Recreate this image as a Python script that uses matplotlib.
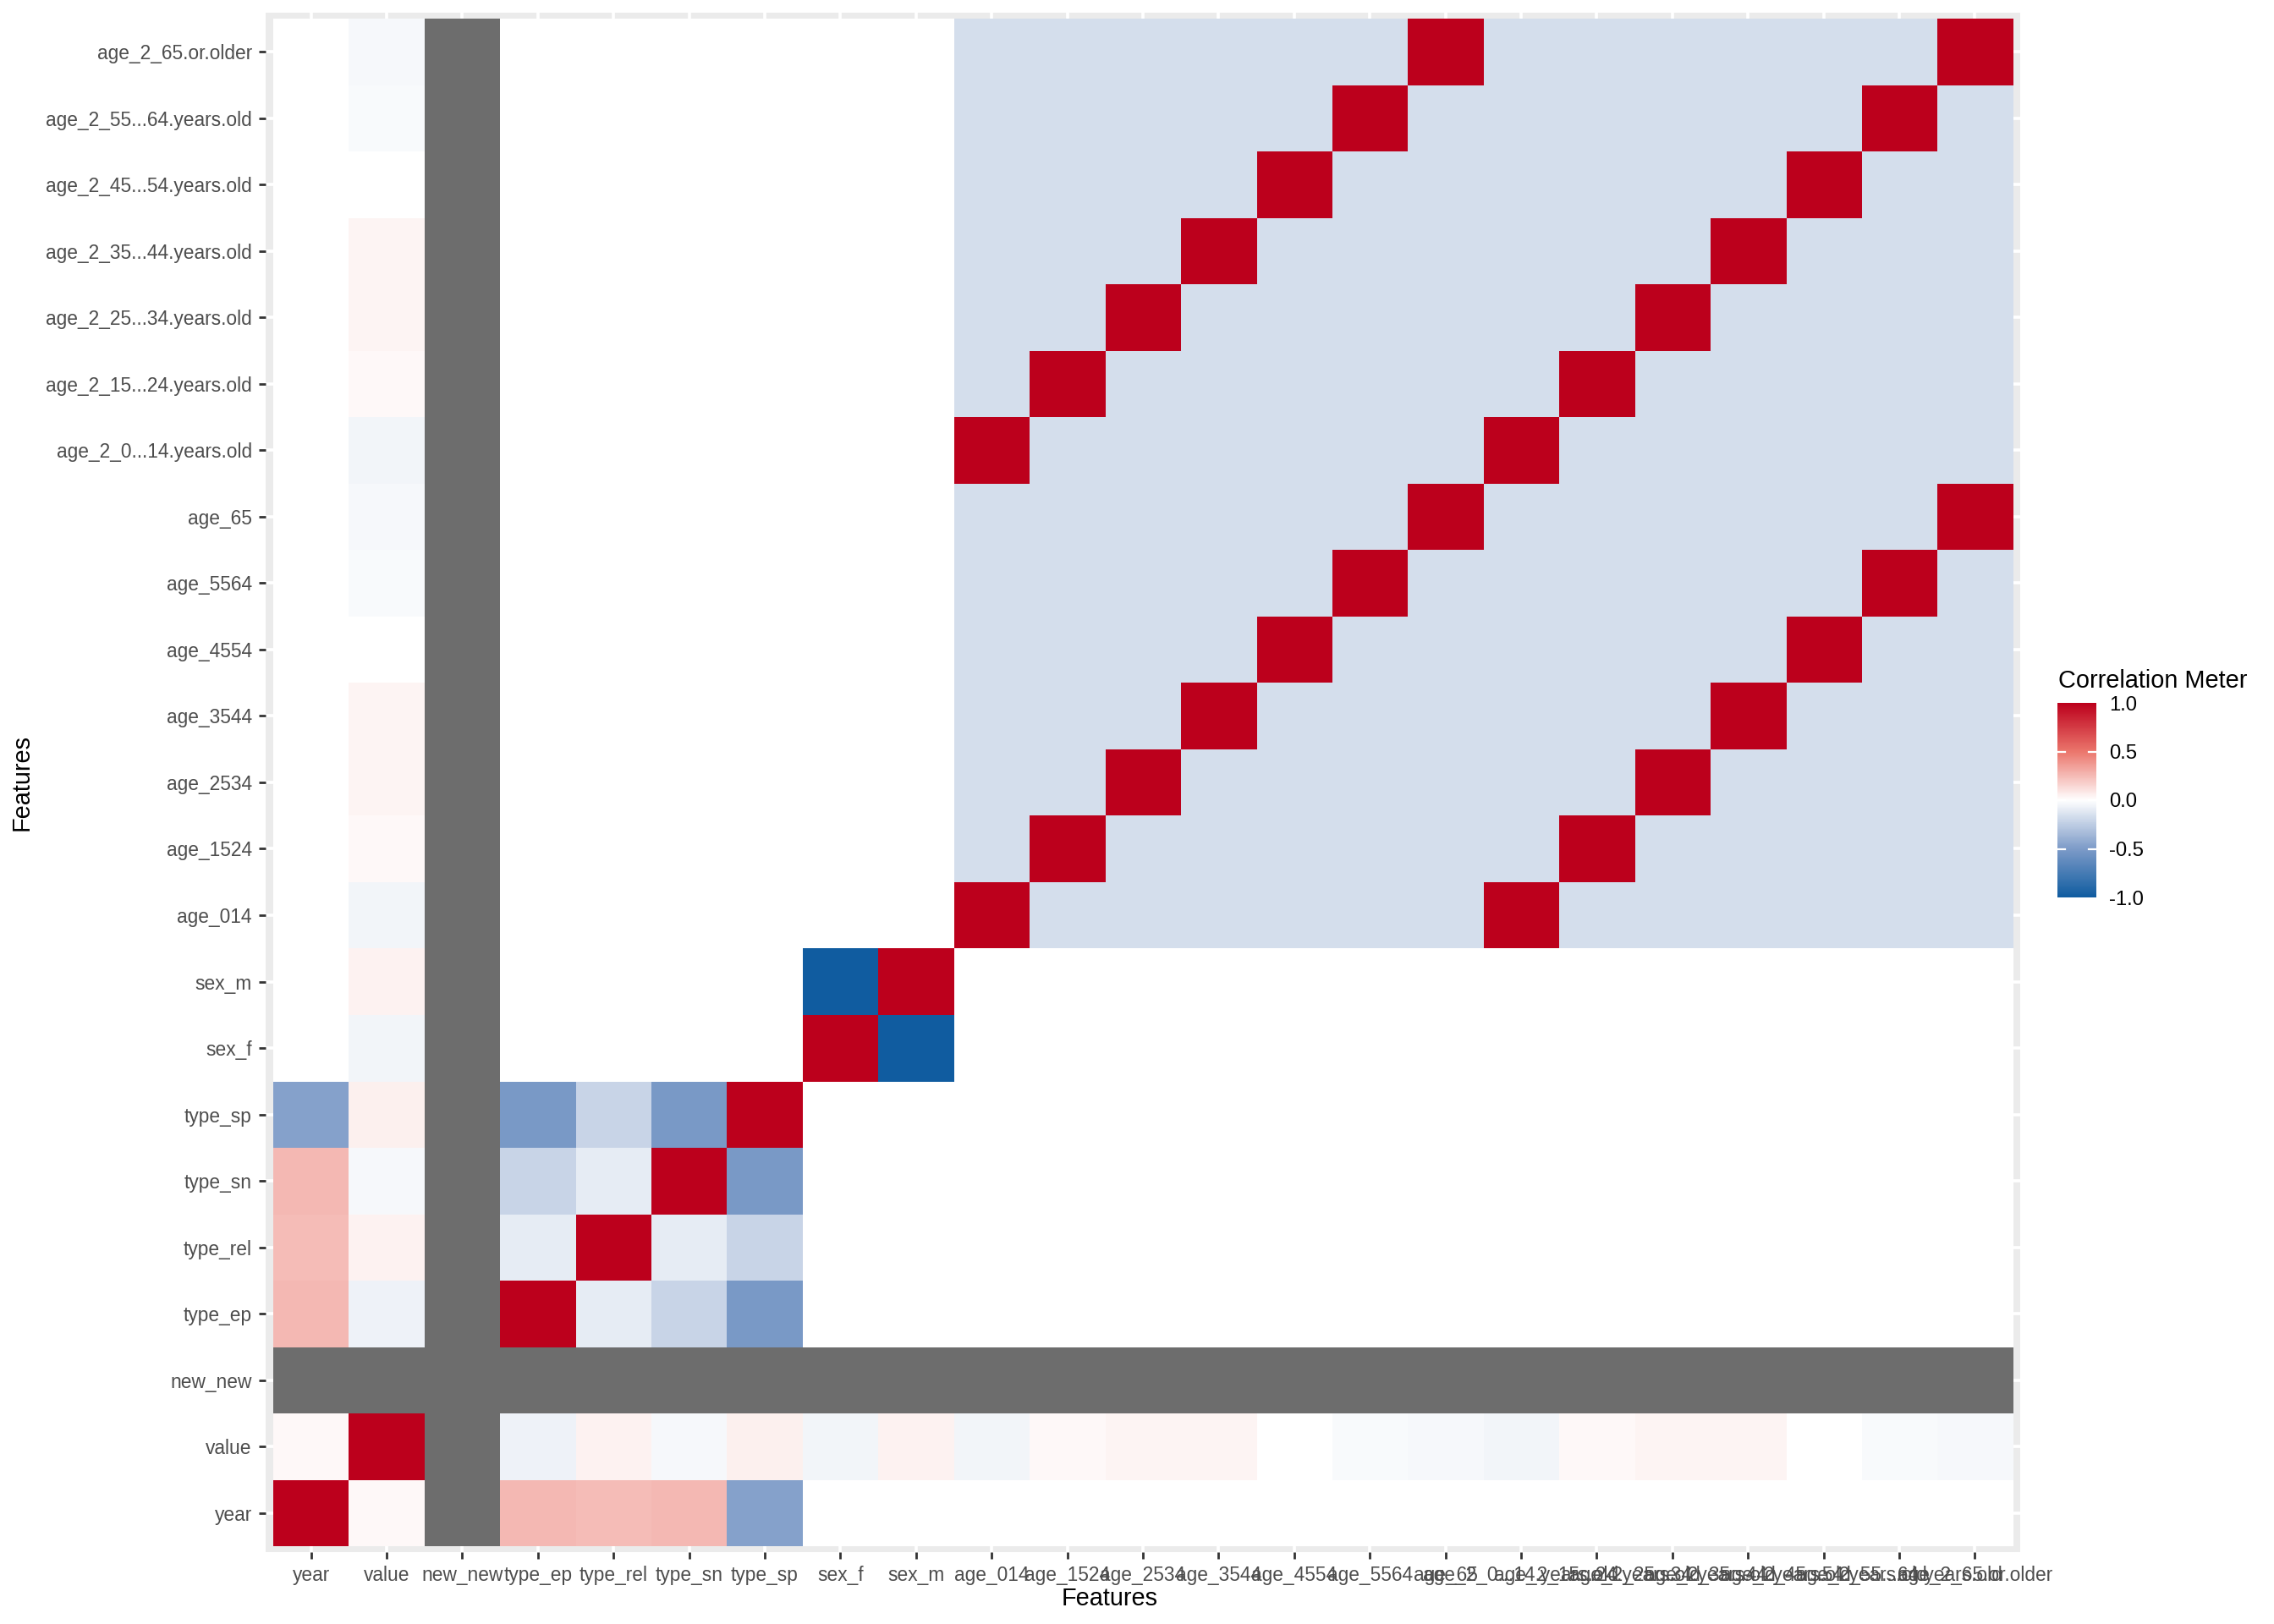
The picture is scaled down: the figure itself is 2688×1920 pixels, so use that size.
import numpy as np
import matplotlib
matplotlib.use('Agg')
import matplotlib.pyplot as plt
from matplotlib.colors import LinearSegmentedColormap

plt.rcParams['font.family'] = ['Liberation Sans', 'DejaVu Sans']

features = ['year', 'value', 'new_new', 'type_ep', 'type_rel', 'type_sn', 'type_sp',
            'sex_f', 'sex_m', 'age_014', 'age_1524', 'age_2534', 'age_3544', 'age_4554',
            'age_5564', 'age_65', 'age_2_0...14.years.old', 'age_2_15...24.years.old',
            'age_2_25...34.years.old', 'age_2_35...44.years.old', 'age_2_45...54.years.old',
            'age_2_55...64.years.old', 'age_2_65.or.older']

nan = np.nan
# correlations of year / value with every feature (same order as features)
year_corr = [1.0, 0.02, nan, 0.26, 0.24, 0.26, -0.47, 0, 0,
             0, 0, 0, 0, 0, 0, 0, 0, 0, 0, 0, 0, 0, 0]
value_corr = [0.02, 1.0, nan, -0.06, 0.045, -0.03, 0.055, -0.045, 0.045,
              -0.05, 0.02, 0.04, 0.04, 0.0, -0.02, -0.03,
              -0.05, 0.02, 0.04, 0.04, 0.0, -0.02, -0.03]
# type_ep, type_rel, type_sn, type_sp
type_block = [[1.0, -0.09, -0.21, -0.51],
              [-0.09, 1.0, -0.09, -0.21],
              [-0.21, -0.09, 1.0, -0.51],
              [-0.51, -0.21, -0.51, 1.0]]
sex_block = [[1.0, -1.0],
             [-1.0, 1.0]]
age_offdiag = -0.16
na_feature = 'new_new'  # constant column -> correlation undefined

n = len(features)
corr = np.zeros((n, n))
corr[3:7, 3:7] = type_block
corr[7:9, 7:9] = sex_block
age = np.full((7, 7), age_offdiag)
np.fill_diagonal(age, 1.0)
corr[9:, 9:] = np.block([[age, age], [age, age]])
corr[0, :] = year_corr
corr[:, 0] = year_corr
corr[1, :] = value_corr
corr[:, 1] = value_corr
k = features.index(na_feature)
corr[k, :] = nan
corr[:, k] = nan

cmap = LinearSegmentedColormap.from_list(
    'corr', [(0.0, '#105CA0'), (0.25, '#7D9BC8'), (0.5, '#FFFFFF'),
             (0.75, '#EB766C'), (1.0, '#BC001C')], N=257)
cmap.set_bad('#6D6D6D')

fig = plt.figure(figsize=(13.44, 9.6), dpi=200)
ax = fig.add_axes([0.1168, 0.0443, 0.8884 - 0.1168, 0.9922 - 0.0443])
ax.set_facecolor('#EBEBEB')
ax.set_axisbelow(True)
ax.grid(True, color='white', linewidth=1.3)
im = ax.imshow(np.ma.masked_invalid(corr), origin='lower', cmap=cmap, vmin=-1, vmax=1,
               aspect='auto', interpolation='nearest', zorder=2)
ax.set_xlim(-0.6, n - 0.4)
ax.set_ylim(-0.59, n - 0.41)
ax.set_xticks(range(n))
ax.set_xticklabels(features)
ax.set_yticks(range(n))
ax.set_yticklabels(features)
for s in ax.spines.values():
    s.set_visible(False)
ax.tick_params(axis='both', length=3, width=1, color='#333333', labelcolor='#4D4D4D',
               labelsize=8.2, pad=2.8)

fig.text(0.4878, 0.0156, 'Features', ha='center', va='center', fontsize=10.4)
fig.text(0.0097, 0.518, 'Features', ha='center', va='center', fontsize=10.4, rotation=90)

cax = fig.add_axes([2432 / 2688, 1 - 1061 / 1920, 46 / 2688, 230 / 1920])
cb = fig.colorbar(im, cax=cax)
cb.outline.set_visible(False)
cb.set_ticks([-1, -0.5, 0, 0.5, 1])
cb.set_ticklabels(['-1.0', '-0.5', '0.0', '0.5', '1.0'])
cax.tick_params(length=0, labelsize=8.6, pad=5.5, labelcolor='black')
for t in [-0.5, 0, 0.5]:
    cax.plot([0, 0.2], [t, t], color='white', linewidth=0.8, transform=cax.get_yaxis_transform())
    cax.plot([0.8, 1], [t, t], color='white', linewidth=0.8, transform=cax.get_yaxis_transform())
fig.text(2433 / 2688, 1 - 805 / 1920, 'Correlation Meter', ha='left', va='center', fontsize=10.4)

fig.savefig('out.png', dpi=200)
